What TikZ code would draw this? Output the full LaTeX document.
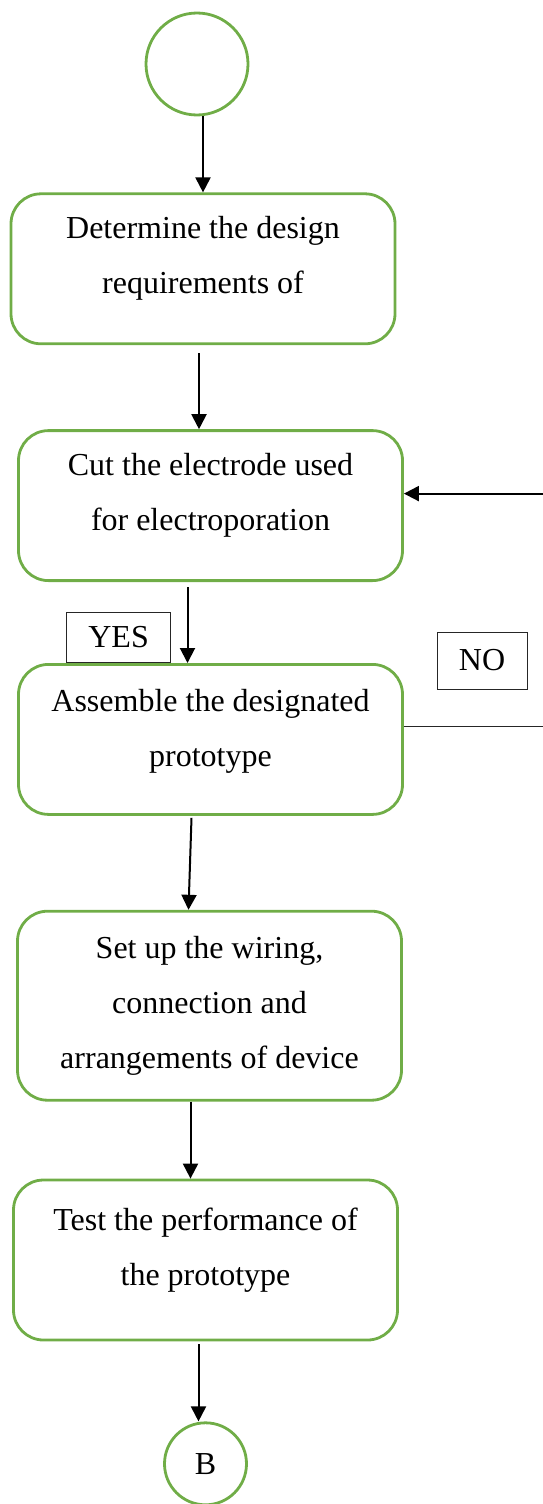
\documentclass[tikz,border=0pt]{standalone}
\usepackage{fontspec}
\setmainfont{Liberation Serif}
\usetikzlibrary{arrows.meta,positioning}
\definecolor{stepgreen}{HTML}{70AD47}

\begin{document}
\begin{tikzpicture}[x=1pt, y=1pt, >={Triangle[width=15pt,length=15pt]}, node distance=80pt,
    font=\fontsize{32}{55}\selectfont]
  \tikzstyle{box}=[draw=stepgreen, line width=2.8pt, rounded corners=30pt, align=center, minimum width=384pt, minimum height=150pt]
  \tikzstyle{term}=[draw=stepgreen, line width=2.8pt, circle, inner sep=0pt]
  \tikzstyle{tag}=[draw=black!85, line width=1pt, inner sep=0pt]
  \tikzstyle{arrow}=[->, line width=2pt]
  \useasboundingbox (0,0) rectangle (543,-1504);

  \node[term, minimum size=102pt] (start) at (197,-64) {};
  \node[box, text depth=27pt, below=76pt of start, xshift=6pt] (req) {Determine the design\\requirements of};
  \node[box, text depth=27pt, below=84pt of req, xshift=7.5pt] (cut) {Cut the electrode used\\for electroporation};
  \node[box, text depth=24pt, below=81pt of cut] (assemble) {Assemble the designated\\prototype};
  \node[box, minimum height=189pt, below=94pt of assemble, xshift=-1pt] (wiring) {Set up the wiring,\\connection and\\arrangements of device};
  \node[box, minimum height=160pt, text depth=27pt, below=77pt of wiring, xshift=-4pt] (test) {Test the performance of\\the prototype};
  \node[term, minimum size=82pt, below=80pt of test] (next) {B};

  \node[tag, minimum width=104pt, minimum height=50pt, above right=0pt and 49pt of assemble.north west] (yes) {YES};
  \node[tag, minimum width=90pt, minimum height=57pt] (no) at (482,-660.5) {NO};

  \draw[arrow] ([xshift=6pt]start.south) -- (req.north);
  \draw[arrow] ([xshift=-4pt,yshift=-8pt]req.south) -- ([xshift=-11.5pt]cut.north);
  \draw[arrow] ([xshift=-23pt,yshift=-5pt]cut.south) -- ([xshift=-23pt]assemble.north);
  \draw[arrow] ([xshift=-19pt,yshift=-2pt]assemble.south) -- ([xshift=-21pt]wiring.north);
  \draw[arrow] ([xshift=-19pt]wiring.south) -- ([xshift=-15pt]test.north);
  \draw[arrow] ([xshift=-7pt,yshift=-3pt]test.south) -- ([xshift=-7pt]next.north);

  \draw[line width=1pt, black!85] ([yshift=13pt]assemble.east) -- ++(150,0) coordinate (back);
  \draw[arrow] (back) |- ([yshift=12pt]cut.east);
\end{tikzpicture}
\end{document}
